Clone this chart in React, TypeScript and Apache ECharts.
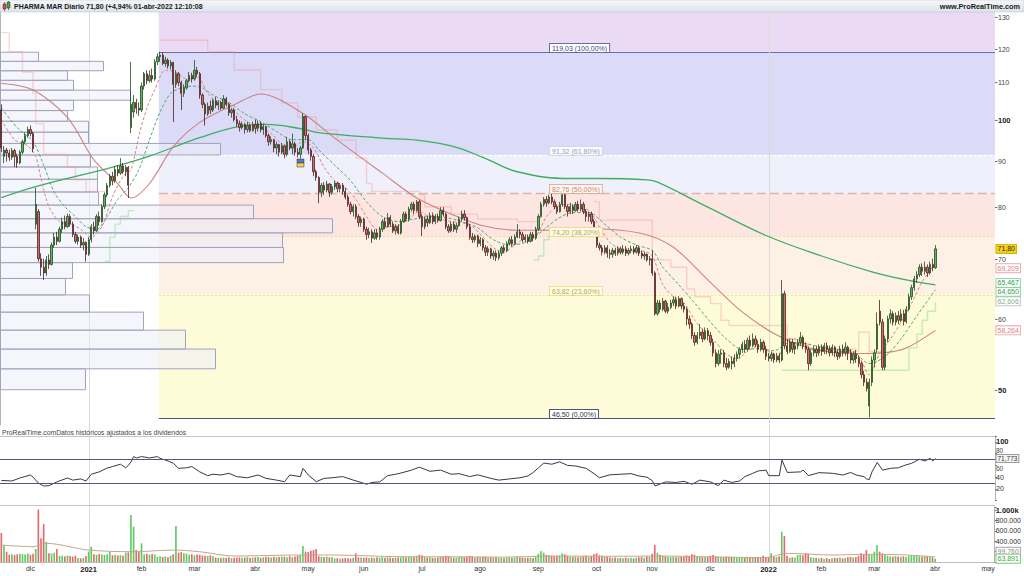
import React, { useEffect, useRef } from "react";
import * as echarts from "echarts";

// ---------- DATA ----------
const CATEGORY_COUNT = 376;
const monthTicks: [number, string][] = [
  [11, "dic"], [33, "2021"], [53, "feb"], [73, "mar"], [96, "abr"], [116, "may"], [137, "jun"],
  [159, "jul"], [181, "ago"], [203, "sep"], [225, "oct"], [246, "nov"], [268, "dic"], [290, "2022"],
  [310, "feb"], [330, "mar"], [353, "abr"], [373, "may"],
];
const yearTickIdx = [33, 290];
const priceTicks = [50, 60, 70, 80, 90, 100, 110, 120, 130];
const boldPriceTicks = [50, 100];
const priceAxisMin = 45.71;
const priceAxisMax = 131.79;
const fibLevels = [119.03, 91.32, 82.76, 74.2, 63.82, 46.5];
const fibPercents = ["100,00%", "61,80%", "50,00%", "38,20%", "23,60%", "0,00%"];
const fibStartIndex = 60;

// [open, close, low, high]
const candles: number[][] = [
  [102.5, 93.0, 92.0, 104.0], [91.0, 92.5, 89.5, 93.5], [92.5, 91.8, 89.8, 93.0], [91.8, 90.8, 90.0, 92.6],
  [90.8, 92.4, 90.2, 93.0], [92.4, 91.0, 88.6, 92.8], [91.0, 89.5, 88.4, 91.6], [89.5, 92.0, 89.2, 92.5],
  [92.0, 94.5, 91.5, 95.0], [94.5, 96.0, 94.0, 96.8], [96.0, 97.5, 95.5, 98.2], [97.5, 96.5, 95.8, 98.5],
  [96.5, 92.8, 92.0, 97.0], [76.5, 80.5, 75.5, 84.0], [79.0, 70.0, 69.5, 79.5], [70.0, 68.5, 67.0, 71.0],
  [68.5, 67.5, 66.3, 70.0], [67.5, 69.8, 67.0, 70.5], [69.8, 69.0, 68.2, 70.8], [69.0, 72.5, 68.8, 73.0],
  [72.5, 74.0, 72.0, 74.8], [74.0, 73.2, 72.5, 75.0], [73.2, 75.5, 73.0, 76.0], [75.5, 77.0, 74.8, 77.8],
  [77.0, 76.0, 75.5, 78.2], [76.0, 78.0, 75.8, 78.6], [78.0, 76.5, 76.0, 78.5], [76.5, 74.5, 74.0, 77.0],
  [74.5, 73.2, 72.8, 75.0], [73.2, 74.0, 72.6, 74.5], [74.0, 72.5, 72.0, 74.3], [72.5, 73.0, 71.5, 73.8],
  [73.0, 70.8, 69.5, 73.2], [70.8, 73.5, 70.5, 74.0], [73.5, 76.0, 73.0, 76.5], [76.0, 75.2, 74.5, 77.0],
  [75.2, 78.0, 75.0, 78.5], [78.0, 77.0, 76.2, 79.0], [77.0, 80.0, 76.8, 80.5], [80.0, 82.5, 79.5, 83.0],
  [82.5, 84.5, 82.0, 85.0], [84.5, 86.5, 84.0, 87.0], [86.5, 85.5, 84.5, 87.5], [85.5, 88.0, 85.0, 88.8],
  [88.0, 87.2, 86.5, 89.0], [87.2, 88.8, 86.8, 90.6], [88.8, 87.5, 87.0, 89.5], [87.5, 88.5, 86.5, 89.0],
  [88.5, 84.5, 81.8, 88.8], [98.0, 104.0, 96.6, 116.0], [102.0, 104.5, 100.5, 106.5], [104.5, 103.0, 101.5, 105.5],
  [103.0, 102.5, 101.0, 104.5], [102.5, 109.0, 102.0, 110.0], [109.0, 112.5, 108.0, 113.0], [112.5, 110.5, 109.5, 113.5],
  [110.5, 112.0, 110.0, 113.5], [112.0, 111.0, 110.0, 114.0], [111.0, 116.0, 110.5, 116.8], [116.0, 117.5, 115.0, 118.5],
  [117.5, 118.0, 116.0, 119.03], [118.0, 115.5, 115.0, 118.8], [115.5, 116.5, 114.5, 117.5], [116.5, 114.8, 114.0, 117.0],
  [114.8, 115.8, 113.8, 116.5], [115.8, 109.5, 99.4, 116.0], [109.5, 112.5, 108.5, 113.5], [112.5, 110.0, 109.0, 113.0],
  [110.0, 107.0, 102.5, 110.5], [107.0, 108.5, 106.0, 109.5], [108.5, 110.5, 108.0, 111.0], [110.5, 112.0, 110.0, 113.0],
  [112.0, 111.0, 110.0, 112.8], [111.0, 113.5, 110.5, 116.5], [113.5, 112.5, 111.5, 114.5], [112.5, 106.5, 105.5, 113.0],
  [106.5, 104.0, 103.0, 107.0], [104.0, 101.5, 98.5, 104.5], [101.5, 103.5, 101.0, 104.5], [103.5, 102.5, 101.5, 105.0],
  [102.5, 105.0, 102.0, 105.5], [105.0, 103.8, 103.0, 106.0], [103.8, 104.5, 102.5, 105.2], [104.5, 103.0, 102.5, 105.0],
  [103.0, 105.5, 102.8, 106.5], [105.5, 104.0, 103.5, 106.0], [104.0, 101.8, 101.0, 104.5], [101.8, 102.5, 100.5, 103.0],
  [102.5, 100.0, 99.5, 103.0], [100.0, 99.0, 98.2, 101.0], [99.0, 98.0, 97.0, 99.8], [98.0, 98.8, 97.5, 99.5],
  [98.8, 97.5, 96.5, 99.2], [97.5, 98.5, 96.8, 99.5], [98.5, 97.2, 96.8, 99.0], [97.2, 98.8, 97.0, 99.5],
  [98.8, 97.8, 96.5, 100.0], [97.8, 99.0, 97.0, 99.8], [99.0, 97.5, 96.8, 99.5], [97.5, 98.2, 96.2, 98.8],
  [98.2, 96.0, 95.5, 98.5], [96.0, 94.5, 93.5, 96.5], [94.5, 95.0, 93.8, 95.8], [95.0, 93.0, 92.0, 95.2],
  [93.0, 93.8, 91.5, 94.5], [93.8, 92.0, 91.0, 94.0], [92.0, 93.5, 91.5, 94.2], [93.5, 91.5, 90.6, 93.8],
  [91.5, 94.5, 91.0, 95.7], [94.5, 93.0, 92.5, 95.0], [93.0, 94.0, 91.5, 96.5], [94.0, 92.0, 91.2, 94.5],
  [92.0, 91.5, 90.8, 93.0], [91.5, 93.0, 90.5, 93.5], [93.0, 100.8, 92.8, 101.6], [100.8, 96.0, 95.0, 101.0],
  [96.0, 92.5, 91.5, 96.5], [92.5, 91.0, 90.0, 93.0], [91.0, 87.5, 86.5, 91.5], [87.5, 86.2, 85.5, 88.0],
  [86.2, 83.0, 80.7, 86.5], [83.0, 84.5, 82.0, 85.0], [84.5, 83.5, 82.5, 85.2], [83.5, 84.8, 83.0, 85.5],
  [84.8, 83.0, 82.0, 85.0], [83.0, 84.2, 82.5, 84.8], [84.2, 85.0, 83.5, 85.5], [85.0, 83.8, 83.0, 85.3],
  [83.8, 84.5, 83.0, 85.0], [84.5, 83.2, 82.5, 85.0], [83.2, 82.0, 81.5, 84.0], [82.0, 80.5, 80.0, 82.5],
  [80.5, 79.0, 78.5, 81.0], [79.0, 80.0, 78.0, 80.5], [80.0, 78.0, 77.5, 80.5], [78.0, 76.8, 76.0, 78.5],
  [76.8, 77.5, 76.0, 78.0], [77.5, 75.5, 75.0, 77.8], [75.5, 74.5, 73.5, 76.0], [74.5, 75.0, 73.8, 75.8],
  [75.0, 73.8, 72.9, 75.5], [73.8, 74.8, 73.5, 75.5], [74.8, 74.0, 73.5, 75.5], [74.0, 75.5, 73.5, 76.0],
  [75.5, 77.0, 75.0, 77.5], [77.0, 76.0, 75.5, 77.8], [76.0, 77.8, 75.8, 78.7], [77.8, 76.5, 76.0, 78.3],
  [76.5, 75.2, 74.8, 77.0], [75.2, 76.0, 74.5, 76.5], [76.0, 74.8, 74.5, 76.5], [74.8, 77.0, 74.5, 77.5],
  [77.0, 78.5, 76.8, 79.0], [78.5, 77.5, 77.0, 79.0], [77.5, 79.5, 77.0, 80.0], [79.5, 80.5, 79.0, 81.0],
  [80.5, 79.2, 78.5, 81.0], [79.2, 81.0, 79.0, 81.4], [81.0, 78.0, 77.5, 81.4], [78.0, 76.0, 74.2, 78.5],
  [76.0, 77.5, 75.5, 78.0], [77.5, 76.8, 76.0, 78.2], [76.8, 78.2, 76.5, 78.8], [78.2, 77.0, 76.5, 78.8],
  [77.0, 78.0, 76.5, 78.5], [78.0, 77.2, 76.8, 78.6], [77.2, 79.2, 77.0, 79.9], [79.2, 78.5, 78.0, 79.9],
  [78.5, 76.0, 75.5, 78.8], [76.0, 75.2, 74.8, 76.5], [75.2, 76.5, 74.9, 77.0], [76.5, 75.5, 75.0, 77.0],
  [75.5, 76.2, 74.8, 76.8], [76.2, 77.5, 76.0, 78.0], [77.5, 78.5, 77.0, 79.2], [78.5, 77.8, 77.2, 79.3],
  [77.8, 76.0, 75.5, 78.0], [76.0, 74.0, 73.5, 76.5], [74.0, 73.5, 72.9, 74.8], [73.5, 74.2, 73.0, 74.5],
  [74.2, 72.8, 72.1, 74.5], [72.8, 73.5, 72.3, 74.0], [73.5, 72.0, 71.5, 73.8], [72.0, 71.2, 70.5, 72.5],
  [71.2, 71.8, 70.5, 72.3], [71.8, 70.5, 70.0, 72.0], [70.5, 71.0, 69.8, 71.5], [71.0, 70.2, 69.6, 71.5],
  [70.2, 71.0, 69.8, 71.5], [71.0, 72.0, 70.5, 72.3], [72.0, 71.5, 71.0, 72.5], [71.5, 72.8, 71.2, 73.2],
  [72.8, 73.5, 72.5, 74.0], [73.5, 72.8, 72.2, 74.2], [72.8, 74.0, 72.5, 74.5], [74.0, 75.0, 73.8, 76.5],
  [75.0, 74.5, 73.8, 75.5], [74.5, 73.5, 73.0, 75.0], [73.5, 74.0, 73.0, 74.5], [74.0, 73.2, 72.8, 74.5],
  [73.2, 74.5, 73.0, 75.0], [74.5, 73.8, 73.2, 75.0], [73.8, 75.5, 73.5, 76.0], [75.5, 78.0, 75.2, 78.5],
  [78.0, 80.5, 77.8, 81.0], [80.5, 81.5, 80.0, 82.0], [81.5, 80.8, 80.0, 82.2], [80.8, 82.0, 80.5, 82.5],
  [82.0, 81.0, 80.5, 82.8], [81.0, 80.0, 79.5, 81.5], [80.0, 79.0, 78.5, 80.5], [79.0, 80.5, 78.8, 81.0],
  [80.5, 82.5, 80.0, 83.0], [82.5, 80.0, 79.5, 82.8], [80.0, 79.0, 78.0, 80.5], [79.0, 80.0, 78.5, 80.8],
  [80.0, 79.2, 78.5, 80.5], [79.2, 80.5, 79.0, 81.0], [80.5, 79.5, 79.0, 81.2], [79.5, 80.5, 79.0, 81.5],
  [80.5, 79.0, 78.5, 81.0], [79.0, 78.0, 77.0, 79.5], [78.0, 78.5, 77.0, 79.0], [78.5, 77.0, 76.5, 79.0],
  [77.0, 74.5, 74.0, 77.5], [74.5, 72.5, 72.0, 75.0], [72.5, 72.0, 71.5, 73.0], [72.0, 71.2, 70.6, 72.5],
  [71.2, 72.0, 70.8, 72.5], [72.0, 71.0, 70.2, 72.5], [71.0, 70.8, 70.0, 71.8], [70.8, 71.5, 70.2, 72.0],
  [71.5, 71.0, 70.5, 72.0], [71.0, 71.8, 70.6, 72.3], [71.8, 71.2, 70.8, 72.2], [71.2, 71.8, 70.8, 72.5],
  [71.8, 71.0, 70.5, 72.3], [71.0, 71.5, 70.6, 72.0], [71.5, 71.8, 71.0, 72.4], [71.8, 71.2, 70.8, 72.3],
  [71.2, 72.0, 70.9, 72.5], [72.0, 71.0, 70.5, 72.3], [71.0, 70.5, 70.0, 71.5], [70.5, 70.8, 69.8, 71.3],
  [70.8, 69.8, 69.5, 71.0], [69.8, 70.0, 68.8, 70.5], [70.0, 67.5, 67.0, 71.5], [67.5, 60.8, 60.5, 67.8],
  [60.8, 62.5, 60.5, 63.0], [62.5, 61.5, 61.0, 63.0], [61.5, 62.8, 61.2, 63.3], [62.8, 61.2, 60.9, 63.0],
  [61.2, 61.8, 60.8, 62.5], [61.8, 62.5, 61.5, 63.0], [62.5, 63.0, 62.0, 63.6], [63.0, 62.0, 61.5, 63.5],
  [62.0, 63.2, 61.8, 63.6], [63.2, 62.0, 61.5, 63.4], [62.0, 61.5, 61.0, 62.5], [61.5, 60.0, 59.0, 61.8],
  [60.0, 59.2, 58.5, 60.5], [59.2, 57.5, 57.0, 59.5], [57.5, 56.5, 56.0, 58.0], [56.5, 57.5, 56.2, 58.0],
  [57.5, 58.0, 57.0, 59.2], [58.0, 57.0, 56.5, 58.5], [57.0, 58.2, 56.8, 58.7], [58.2, 57.5, 56.8, 58.6],
  [57.5, 56.5, 56.0, 58.0], [56.5, 55.0, 54.5, 57.0], [55.0, 53.5, 53.0, 55.5], [53.5, 54.8, 53.2, 55.4],
  [54.8, 55.0, 53.5, 55.5], [55.0, 53.5, 53.0, 55.4], [53.5, 53.0, 52.6, 54.3], [53.0, 53.8, 52.8, 54.2],
  [53.8, 53.5, 52.7, 54.5], [53.5, 54.2, 53.0, 54.8], [54.2, 54.8, 53.8, 55.2], [54.8, 55.5, 54.2, 55.8],
  [55.5, 56.2, 55.0, 56.6], [56.2, 55.5, 55.0, 56.8], [55.5, 56.8, 55.2, 57.2], [56.8, 56.0, 55.5, 57.5],
  [56.0, 57.0, 55.8, 57.8], [57.0, 56.2, 55.8, 57.5], [56.2, 55.5, 55.0, 56.8], [55.5, 56.5, 55.2, 57.0],
  [56.5, 55.5, 55.0, 56.8], [55.5, 54.5, 54.0, 56.0], [54.5, 54.2, 53.8, 55.0], [54.2, 54.8, 53.8, 55.2],
  [54.8, 54.0, 53.6, 55.0], [54.0, 54.5, 53.7, 55.0], [54.5, 54.0, 53.6, 55.0], [54.0, 64.0, 53.8, 66.3],
  [64.0, 56.0, 55.5, 64.5], [56.0, 55.2, 54.8, 57.0], [55.2, 56.5, 55.0, 57.0], [56.5, 55.5, 55.0, 57.0],
  [55.5, 56.0, 54.8, 56.5], [56.0, 56.5, 55.5, 57.0], [56.5, 57.2, 56.0, 58.0], [57.2, 56.0, 55.5, 57.5],
  [56.0, 55.5, 55.0, 56.5], [55.5, 53.5, 52.6, 55.8], [53.5, 55.0, 53.2, 55.5], [55.0, 55.5, 54.5, 56.0],
  [55.5, 55.0, 54.4, 56.0], [55.0, 55.8, 54.6, 56.2], [55.8, 55.2, 54.6, 56.2], [55.2, 56.0, 54.8, 56.4],
  [56.0, 55.5, 54.8, 56.5], [55.5, 55.0, 54.5, 56.0], [55.0, 55.8, 54.6, 56.2], [55.8, 55.0, 54.4, 56.0],
  [55.0, 54.5, 54.0, 55.5], [54.5, 55.5, 54.2, 56.0], [55.5, 55.0, 54.5, 56.2], [55.0, 55.8, 54.6, 56.5],
  [55.8, 55.0, 54.0, 56.0], [55.0, 54.0, 53.5, 55.5], [54.0, 54.8, 53.5, 55.2], [54.8, 54.2, 53.6, 55.4],
  [54.2, 53.5, 53.0, 54.6], [53.5, 52.0, 51.5, 53.8], [52.0, 51.0, 50.5, 52.5], [51.0, 50.2, 49.8, 51.5],
  [48.0, 51.0, 46.6, 51.5], [51.0, 54.0, 50.5, 54.5], [54.0, 55.0, 53.0, 55.5], [55.5, 59.2, 55.0, 61.0],
  [61.2, 59.5, 59.0, 63.0], [59.5, 53.0, 52.6, 60.0], [53.0, 57.0, 52.6, 57.5], [57.0, 60.0, 56.5, 60.5],
  [60.0, 60.8, 59.3, 61.5], [60.8, 59.5, 59.0, 61.2], [59.5, 60.5, 59.0, 61.0], [60.5, 59.8, 59.2, 61.2],
  [59.8, 60.8, 59.5, 61.5], [60.8, 59.6, 59.0, 61.4], [59.6, 61.5, 59.3, 62.0], [61.5, 63.5, 61.2, 64.0],
  [63.5, 65.0, 63.0, 65.5], [65.0, 66.5, 64.5, 67.0], [66.5, 67.2, 65.8, 67.8], [67.2, 68.5, 66.8, 69.0],
  [68.5, 67.8, 67.0, 69.2], [67.8, 68.5, 67.2, 69.5], [68.5, 67.5, 66.8, 69.0], [67.5, 69.0, 67.2, 69.5],
  [69.0, 68.4, 67.8, 70.0], [68.4, 71.8, 68.2, 72.5],
];

// daily volume, thousands of shares
const volumesK: number[] = [
  558, 327, 198, 140, 150, 135, 150, 160, 150, 145, 165, 140, 160, 250, 1013, 460, 730, 390, 170, 160,
  180, 250, 115, 120, 110, 125, 115, 100, 120, 75, 70, 80, 115, 200, 295, 150, 140, 155, 145, 135,
  150, 200, 130, 140, 125, 135, 120, 180, 185, 904, 680, 230, 200, 360, 150, 160, 140, 155, 145, 100,
  110, 95, 105, 90, 120, 150, 692, 180, 190, 170, 160, 140, 150, 130, 145, 140, 125, 120, 115, 130,
  110, 85, 80, 75, 85, 80, 90, 75, 80, 85, 90, 80, 85, 95, 75, 85, 90, 95, 80, 90,
  100, 95, 85, 100, 90, 95, 105, 100, 90, 110, 95, 105, 120, 135, 307, 200, 190, 215, 230, 250,
  110, 100, 95, 105, 90, 95, 70, 75, 65, 70, 75, 70, 65, 80, 167, 90, 85, 80, 90, 75,
  85, 80, 90, 85, 95, 80, 90, 85, 75, 80, 85, 90, 100, 85, 95, 110, 90, 120, 140, 130,
  95, 85, 90, 80, 75, 85, 100, 95, 120, 110, 90, 80, 85, 95, 100, 90, 105, 120, 110, 85,
  100, 90, 95, 105, 80, 95, 85, 90, 75, 80, 70, 85, 90, 75, 85, 110, 90, 85, 75, 80,
  85, 75, 100, 160, 210, 180, 140, 130, 120, 110, 115, 125, 170, 150, 120, 100, 95, 105, 90, 100,
  110, 120, 95, 115, 150, 170, 130, 120, 95, 100, 90, 80, 85, 75, 80, 70, 85, 75, 80, 70,
  85, 90, 95, 80, 110, 100, 160, 330, 180, 140, 120, 110, 100, 95, 105, 90, 95, 100, 110, 130,
  120, 150, 140, 110, 100, 95, 90, 100, 120, 135, 110, 100, 95, 90, 105, 100, 95, 90, 85, 80,
  90, 85, 100, 90, 85, 80, 95, 90, 120, 85, 90, 167, 100, 95, 110, 583, 500, 120, 80, 90,
  85, 135, 140, 130, 170, 160, 90, 80, 75, 70, 80, 65, 75, 60, 70, 80, 75, 85, 70, 80,
  90, 100, 85, 95, 120, 167, 150, 230, 140, 135, 200, 327, 200, 167, 150, 120, 110, 100, 115, 105,
  100, 110, 95, 120, 135, 115, 125, 110, 100, 115, 105, 95, 90, 64,
];
const volumeMaK: [number, number][] = [
  [0, 327], [12, 295], [17, 360], [33, 230], [50, 198], [65, 230], [75, 198], [88, 115], [113, 135], [125, 135],
  [151, 102], [170, 100], [190, 95], [210, 115], [230, 110], [250, 115], [264, 102], [289, 85], [297, 167],
  [314, 135], [327, 148], [340, 140], [353, 100],
];
const lastVolumeText = "63.891";
const volumeMaText = "99.760";

// moving averages & indicator lines [dayIndex, price]
const ma200: [number, number][] = [
  [0, 81.9], [14, 84.4], [41, 88.4], [56, 91.1], [75, 95.5], [90, 98.3], [100, 98.8], [114, 97.6], [119, 96.8],
  [144, 95.4], [157, 94.9], [170, 93.5], [182, 90.8], [195, 87.5], [215, 86.0], [226, 86.0], [244, 85.7],
  [248, 85.2], [267, 79.9], [289, 74.3], [310, 70.5], [329, 67.7], [342, 66.3], [353, 65.467],
];
const ma50: [number, number][] = [
  [0, 109.8], [12, 107.9], [25, 100.6], [35, 90.2], [44, 84.9], [49, 81.8], [56, 84.9], [65, 93.3], [75, 99.3],
  [88, 103.9], [98, 106.8], [114, 101.6], [127, 94.9], [144, 87.2], [157, 81.8], [170, 78.5], [182, 76.2],
  [195, 75.3], [211, 75.3], [222, 75.6], [242, 74.7], [254, 72.1], [267, 66.3], [279, 61.4], [292, 57.8],
  [305, 55.7], [323, 54.9], [333, 55.0], [342, 55.7], [353, 58.264],
];
const fastDashed: [number, number][] = [
  [0, 100], [5, 95], [10, 93.5], [13, 91], [15, 86], [18, 80], [22, 77], [26, 76.5], [30, 75.5], [34, 74],
  [38, 76], [42, 82], [46, 86.5], [49, 88], [52, 96], [55, 103], [58, 108], [62, 113.5], [66, 113], [70, 111],
  [74, 111.5], [78, 107], [82, 104.5], [86, 104], [90, 101], [94, 99], [98, 98], [102, 96.5], [106, 94], [110, 93],
  [114, 94.5], [118, 93], [122, 88.5], [126, 85.5], [130, 84], [134, 81.5], [138, 78], [142, 75.5], [146, 76],
  [150, 76.2], [154, 77.5], [158, 79], [162, 77.8], [166, 77.5], [170, 77], [174, 76.8], [178, 76], [182, 74],
  [186, 72], [190, 71.2], [194, 72.5], [198, 73.8], [202, 74.2], [206, 78], [210, 80], [214, 80.5], [218, 79.8],
  [222, 79.2], [226, 76], [230, 73], [234, 71.8], [238, 71.4], [242, 71.4], [246, 70.5], [250, 65.5], [254, 63.5],
  [258, 62.5], [262, 59.8], [266, 58], [270, 56.5], [274, 54.8], [278, 54.2], [282, 55.2], [286, 56], [290, 55.2],
  [294, 54.6], [296, 57], [300, 57], [304, 56.2], [308, 55.2], [312, 55.4], [316, 55.2], [320, 55.2], [324, 54.5],
  [328, 52], [332, 55], [336, 57], [340, 59.5], [344, 62.5], [348, 66], [353, 69.209],
];
const slowDashed: [number, number][] = [
  [0, 103], [6, 98], [12, 94.5], [16, 89], [20, 83], [24, 80], [28, 78], [32, 76], [36, 75.5], [40, 78], [44, 81.5],
  [48, 84], [52, 88], [56, 95], [60, 102], [64, 107], [68, 108.5], [72, 109], [76, 108.5], [80, 106.5], [86, 104.5],
  [92, 101.5], [98, 99.5], [104, 97], [110, 95], [116, 95], [120, 92.5], [126, 89], [132, 85.5], [138, 81], [144, 78],
  [150, 77], [156, 77.5], [162, 78], [168, 77.8], [174, 77], [180, 75.8], [186, 73.5], [192, 72.5], [198, 73],
  [204, 75], [210, 77.5], [216, 78.8], [222, 78.8], [228, 76.5], [234, 74], [240, 72.5], [246, 71.5], [250, 68.5],
  [256, 65.5], [262, 62.5], [268, 59.5], [274, 57], [280, 55.5], [286, 55.6], [292, 55.3], [298, 56.5], [304, 56.3],
  [310, 55.8], [316, 55.5], [322, 55.2], [328, 53.5], [334, 54.5], [340, 57], [346, 60.5], [353, 64.65],
];
const resistanceSteps: [number, number][][] = [
  [[0, 125], [3, 119], [8, 113], [12, 107], [13, 99], [16, 91.5], [25, 88.5], [28, 85.7], [32, 83.2], [40, 83.2]],
  [[60, 122.6], [63, 122.6], [78, 119], [88, 113.6], [98, 108], [106, 104.4], [112, 100.7], [119, 97.4], [127, 94.9],
   [134, 90.6], [138, 84.9], [140, 83.2], [158, 82.5], [160, 80], [170, 78.5], [180, 77.5], [195, 77], [203, 77]],
  [[224, 81], [226, 77.3], [245, 77.3], [246, 69.8], [253, 68.5], [259, 64.8], [262, 63.5], [268, 62.4], [272, 59.8],
   [275, 59], [294, 59], [297, 57], [300, 56.3], [305, 55.5], [323, 55.2], [324, 58], [327, 58], [328, 55.2], [333, 55.2]],
];
const supportSteps: [number, number][][] = [
  [[39, 69.5], [41, 74], [43, 76.5], [45, 78], [48, 79.2], [50, 79.2]],
  [[201, 69.8], [203, 70.5], [205, 73.5], [207, 74.2], [213, 74.2]],
  [[295, 52.6], [342, 52.6], [343, 55.7], [346, 57.7], [348, 59.8], [350, 61.2], [353, 62.606]],
];

// RSI [dayIndex, value]
const rsi: [number, number][] = [
  [0, 34.5], [4, 33.5], [7, 38.6], [11, 43.7], [12, 40], [14, 30], [16, 25], [18, 25.5], [21, 32], [25, 38.6],
  [27, 35], [30, 37], [32, 33.5], [34, 45], [37, 49], [40, 55.6], [42, 58], [45, 62], [47, 56], [48, 60], [49, 66],
  [50, 75], [51, 72.7], [53, 75], [56, 72.7], [59, 75], [60, 72], [63, 67.5], [65, 63.6], [67, 55], [70, 56],
  [72, 58], [75, 49], [78, 42.6], [80, 45], [83, 43.7], [86, 46.6], [89, 40.9], [93, 39], [97, 43.7], [100, 38],
  [104, 35], [107, 32.3], [109, 43.7], [113, 40.9], [114, 55], [116, 43.7], [119, 32.3], [122, 38], [125, 39],
  [129, 41], [133, 35], [136, 31], [138, 28], [140, 31], [143, 32], [146, 42.6], [149, 45], [151, 47], [155, 52],
  [158, 57], [162, 50], [166, 52], [170, 45], [173, 46], [177, 41], [180, 44], [185, 38], [188, 35], [192, 37],
  [196, 39], [199, 42], [201, 48], [203, 56], [205, 64], [208, 62], [211, 66], [214, 60], [217, 59], [221, 55],
  [224, 46], [226, 39], [230, 44], [234, 45], [238, 46], [241, 42], [244, 40], [246, 34], [247, 25], [251, 32],
  [255, 31], [258, 33], [261, 28], [264, 35], [268, 32], [271, 25.5], [273, 35], [276, 31], [279, 33.5], [281, 41],
  [284, 46.6], [286, 50.6], [289, 52], [290, 42.6], [294, 42.6], [295, 69], [297, 48], [302, 49], [303, 52],
  [305, 42.6], [309, 47.7], [314, 46.6], [318, 43.7], [321, 48], [323, 43.7], [326, 40.9], [327, 37], [328, 36],
  [329, 49], [331, 65], [333, 52], [336, 55], [339, 56], [341, 59.6], [344, 63.6], [347, 70.5], [349, 67.5],
  [351, 72], [352, 67.5], [353, 71.773],
];
const rsiLevels = [70, 30];

// volume-at-price profile (price bin edges, relative volume)
const profileEdges = [
  50.1, 52.86, 55.61, 58.37, 61.13, 63.89, 66.64, 69.4, 72.16, 74.91, 77.67, 80.43, 83.19, 85.94, 88.7,
  91.46, 94.21, 96.97, 99.73, 102.49, 105.24, 108.0, 110.76, 113.51, 116.27, 119.03,
];
const profileVolumes = [85, 215, 185, 143, 89, 65, 72, 283, 282, 332, 253, 98, 97, 97, 90, 220, 88, 88, 67, 73, 130, 73, 67, 103, 38];

// ---------- STYLE ----------
const FONT = "Liberation Sans, Arial, sans-serif";
const UP = "#5cb55c";
const DOWN = "#d66e6a";
const VOL_UP = "#62c862";
const VOL_DOWN = "#e26a6a";

const fmtEs = (v: number, d: number) => v.toFixed(d).replace(".", ",");

function buildOption(): any {
  const cats = Array.from({ length: CATEGORY_COUNT }, (_, i) => String(i));
  const labelMap = new Map(monthTicks);
  const lineBase = (data: any, color: string, extra: any = {}) => {
    const { lineStyle: ls, ...rest } = extra;
    return {
      type: "line",
      xAxisIndex: 0,
      yAxisIndex: 0,
      data,
      showSymbol: false,
      symbol: "none",
      silent: true,
      z: 4,
      ...rest,
      lineStyle: { color, width: 1, ...(ls || {}) },
    };
  };
  const series: any[] = [];
  // volume profile
  series.push({
    type: "custom",
    xAxisIndex: 1,
    yAxisIndex: 0,
    silent: true,
    z: 2,
    encode: { x: 2, y: [0, 1] },
    data: profileVolumes.map((w, i) => [profileEdges[i], profileEdges[i + 1], w]),
    renderItem: (_p: any, api: any) => {
      const lo = api.value(0);
      const hi = api.value(1);
      const w = api.value(2);
      const a = api.coord([0, hi]);
      const b = api.coord([w, lo]);
      return {
        type: "rect",
        shape: { x: a[0] + 0.5, y: a[1] + 0.5, width: b[0] - a[0], height: b[1] - a[1] },
        style: { fill: "rgba(236,236,250,0.55)", stroke: "#a2a2bc", lineWidth: 1 },
      };
    },
  });
  resistanceSteps.forEach((seg) =>
    series.push(lineBase(seg, "rgba(240,150,150,0.38)", { step: "end", lineStyle: { width: 1.4 } }))
  );
  supportSteps.forEach((seg) =>
    series.push(lineBase(seg, "rgba(120,215,120,0.42)", { step: "end", lineStyle: { width: 1.4 } }))
  );
  series.push(lineBase(ma200, "#3cae62", { smooth: 0.4, lineStyle: { width: 1.3 } }));
  series.push(lineBase(ma50, "rgba(200,112,112,0.85)", { smooth: 0.3, lineStyle: { width: 1.1 } }));
  series.push(lineBase(slowDashed, "#4fa874", { smooth: 0.3, lineStyle: { type: [3, 2], width: 1 } }));
  series.push(lineBase(fastDashed, "#d88484", { smooth: 0.3, lineStyle: { type: [3, 2], width: 1 } }));
  series.push({
    type: "candlestick",
    xAxisIndex: 0,
    yAxisIndex: 0,
    data: candles,
    barWidth: 1.8,
    silent: true,
    z: 5,
    itemStyle: { color: UP, color0: DOWN, borderColor: "#234a22", borderColor0: "#4c2020", borderWidth: 0.8 },
  });
  // RSI
  series.push({
    type: "line",
    xAxisIndex: 2,
    yAxisIndex: 1,
    data: rsi,
    showSymbol: false,
    symbol: "none",
    silent: true,
    lineStyle: { color: "#3a3a3a", width: 1 },
    markLine: {
      silent: true,
      symbol: "none",
      label: { show: false },
      lineStyle: { color: "#56567c", width: 1, type: "solid" },
      data: rsiLevels.map((v) => ({ yAxis: v })),
    },
  });
  // Volume
  series.push({
    type: "bar",
    xAxisIndex: 3,
    yAxisIndex: 2,
    barWidth: "62%",
    silent: true,
    data: volumesK.map((v, i) => ({
      value: v * 1000,
      itemStyle: { color: candles[i][1] >= candles[i][0] ? VOL_UP : VOL_DOWN },
    })),
  });
  series.push({
    type: "line",
    xAxisIndex: 3,
    yAxisIndex: 2,
    data: volumeMaK.map(([i, v]) => [i, v * 1000]),
    showSymbol: false,
    symbol: "none",
    silent: true,
    smooth: 0.3,
    z: 4,
    lineStyle: { color: "#c8a48c", width: 1 },
  });

  const rightLabel = { fontSize: 7, fontFamily: FONT, color: "#333", margin: 1 };
  return {
    animation: false,
    backgroundColor: "#ffffff",
    grid: [
      { left: 0, top: 12, width: 995, height: 413 },
      { left: 0, top: 436, width: 995, height: 64.7 },
      { left: 0, top: 507, width: 995, height: 55 },
    ],
    xAxis: [
      { type: "category", gridIndex: 0, data: cats, show: false },
      { type: "value", gridIndex: 0, min: 0, max: 995, show: false },
      { type: "category", gridIndex: 1, data: cats, show: false },
      {
        type: "category",
        gridIndex: 2,
        data: cats,
        axisLine: { show: true, lineStyle: { color: "#bdbdbd" } },
        axisTick: { show: false },
        splitLine: { show: false },
        axisLabel: {
          interval: (i: number) => labelMap.has(i),
          formatter: (_v: string, i: number) => {
            const t = labelMap.get(i) || "";
            return /^\d+$/.test(t) ? `{b|${t}}` : t;
          },
          fontSize: 7,
          fontFamily: FONT,
          color: "#333",
          margin: 3,
          rich: { b: { fontWeight: "bold", fontSize: 7.5, fontFamily: FONT, color: "#222" } },
        },
      },
    ],
    yAxis: [
      {
        type: "log",
        logBase: 10,
        gridIndex: 0,
        min: priceAxisMin,
        max: priceAxisMax,
        position: "right",
        axisLine: { show: true, lineStyle: { color: "#b4b4b4" } },
        axisTick: { show: false },
        axisLabel: { show: false },
        splitLine: { show: false },
      },
      {
        type: "value",
        gridIndex: 1,
        min: 0,
        max: 110,
        interval: 20,
        position: "right",
        axisLine: { show: true, lineStyle: { color: "#b4b4b4" } },
        axisTick: { show: true, length: 2, lineStyle: { color: "#777" } },
        splitLine: { show: false },
        axisLabel: {
          ...rightLabel,
          formatter: (v: number) =>
            v === 100 ? "{b|100}" : v === 80 ? "{u|80}" : v === 60 ? "{d|60}" : [20, 40].includes(v) ? String(v) : "",
          rich: {
            b: { fontWeight: "bold", fontSize: 7.5, fontFamily: FONT, color: "#222" },
            u: { fontSize: 6.5, fontFamily: FONT, color: "#444", padding: [0, 0, 7, 0] },
            d: { fontSize: 6.5, fontFamily: FONT, color: "#444", padding: [7, 0, 0, 0] },
          },
        },
      },
      {
        type: "value",
        gridIndex: 2,
        min: 0,
        max: 1060000,
        interval: 200000,
        position: "right",
        axisLine: { show: true, lineStyle: { color: "#b4b4b4" } },
        axisTick: { show: true, length: 2, lineStyle: { color: "#777" } },
        splitLine: { show: false },
        axisLabel: {
          ...rightLabel,
          formatter: (v: number) =>
            v === 1000000 ? "{b|1.000k}" : v >= 400000 && v < 1000000 ? `${v / 1000}.000` : "",
          rich: { b: { fontWeight: "bold", fontSize: 7.5, fontFamily: FONT, color: "#222" } },
        },
      },
    ],
    series,
  };
}

function buildGraphics(chart: any): any[] {
  const px = (i: number) => chart.convertToPixel({ xAxisIndex: 0 }, i) as number;
  const py = (v: number) => chart.convertToPixel({ yAxisIndex: 0 }, v) as number;
  const pyR = (v: number) => chart.convertToPixel({ yAxisIndex: 1 }, v) as number;
  const pyV = (v: number) => chart.convertToPixel({ yAxisIndex: 2 }, v) as number;
  const els: any[] = [];
  const slot = 995 / CATEGORY_COUNT;
  const xStart = px(fibStartIndex) - slot / 2;
  const xRight = 995;

  // fibonacci bands
  const bandEdges = [priceAxisMax, ...fibLevels];
  const bandColors = ["#eadaf3", "#dcdbf7", "#eff0fb", "#fde6e1", "#fdf0e5", "#fefcd8"];
  for (let i = 0; i < bandColors.length; i++) {
    const y1 = py(bandEdges[i]);
    const y2 = py(bandEdges[i + 1]);
    els.push({ type: "rect", z: 0, silent: true, shape: { x: xStart, y: y1, width: xRight - xStart, height: y2 - y1 }, style: { fill: bandColors[i] } });
  }
  const fibLineStyles = [
    { stroke: "#6c6ca4", lineWidth: 1 },
    { stroke: "#ffffff", lineWidth: 1.5, lineDash: [3, 2] },
    { stroke: "#d6b6b0", lineWidth: 1.5, lineDash: [9, 4] },
    { stroke: "#efd99a", lineWidth: 1, lineDash: [2, 2] },
    { stroke: "#efe19a", lineWidth: 1, lineDash: [2, 2] },
    { stroke: "#55556a", lineWidth: 1 },
  ];
  const fibBoxStyles = [
    { fill: "#45458a", bg: "#ffffff", border: "#6c6ca4" },
    { fill: "#9a9ab8", bg: "#fbfbff", border: "#d6d6e8" },
    { fill: "#c48878", bg: "#fff6f3", border: "#e4b0a2" },
    { fill: "#b8a454", bg: "#fffbe8", border: "#ecdc8a" },
    { fill: "#b8aa54", bg: "#fffde6", border: "#ece08a" },
    { fill: "#333344", bg: "#ffffff", border: "#55556a" },
  ];
  fibLevels.forEach((lv, i) => {
    const y = Math.round(py(lv)) + 0.5;
    els.push({ type: "line", z: 1, silent: true, shape: { x1: xStart, y1: y, x2: xRight, y2: y }, style: fibLineStyles[i] });
    const b = fibBoxStyles[i];
    els.push({
      type: "text", z: 30, silent: true, x: 550, y: y - 0.5,
      style: {
        text: `${fmtEs(lv, 2)} (${fibPercents[i]})`, fontSize: 7, fontFamily: FONT, fill: b.fill,
        backgroundColor: b.bg, borderColor: b.border, borderWidth: 1, padding: [1, 2, 0, 2],
        align: "left", verticalAlign: "bottom",
      },
    });
  });

  // year grid lines
  yearTickIdx.forEach((i) => {
    const x = Math.round(px(i)) + 0.5;
    els.push({ type: "line", z: 1, silent: true, shape: { x1: x, y1: 12, x2: x, y2: 562 }, style: { stroke: "#dadada", lineWidth: 1 } });
  });

  // panel separators
  [[436.5], [505.5]].forEach(([y]) =>
    els.push({ type: "line", z: 1, silent: true, shape: { x1: 0, y1: y, x2: 995, y2: y }, style: { stroke: "#c4c4c4", lineWidth: 1 } })
  );

  // header
  els.push({
    type: "rect", z: 20, silent: true, shape: { x: 0, y: 0, width: 1024, height: 12 },
    style: { fill: new echarts.graphic.LinearGradient(0, 0, 0, 1, [{ offset: 0, color: "#f6f8fa" }, { offset: 1, color: "#dce3ea" }]), stroke: "#b9c2cb", lineWidth: 0.5 },
  });
  els.push({ type: "line", z: 21, silent: true, shape: { x1: 4.5, y1: 2, x2: 4.5, y2: 11 }, style: { stroke: "#333", lineWidth: 0.6 } });
  els.push({ type: "rect", z: 22, silent: true, shape: { x: 3, y: 4, width: 3, height: 5 }, style: { fill: "#d84848", stroke: "#333", lineWidth: 0.5 } });
  els.push({ type: "line", z: 21, silent: true, shape: { x1: 8.5, y1: 1, x2: 8.5, y2: 10 }, style: { stroke: "#333", lineWidth: 0.6 } });
  els.push({ type: "rect", z: 22, silent: true, shape: { x: 7, y: 2, width: 3, height: 6 }, style: { fill: "#3aa83a", stroke: "#333", lineWidth: 0.5 } });
  els.push({
    type: "text", z: 22, silent: true, x: 14, y: 6.5,
    style: { text: "PHARMA MAR Diario 71,80 (+4,94% 01-abr-2022 12:10:08", fontSize: 7, fontWeight: "bold", fontFamily: FONT, fill: "#1a1a1a", verticalAlign: "middle" },
  });
  els.push({
    type: "text", z: 22, silent: true, x: 1020, y: 6.5,
    style: { text: "www.ProRealTime.com", fontSize: 7.3, fontWeight: "bold", fontFamily: FONT, fill: "#1a1a1a", align: "right", verticalAlign: "middle" },
  });

  // caption under price panel
  els.push({
    type: "text", z: 22, silent: true, x: 2, y: 432,
    style: { text: "ProRealTime.comDatos históricos ajustados a los dividendos", fontSize: 6.8, fontFamily: FONT, fill: "#444", verticalAlign: "middle" },
  });

  // dividend marker
  els.push({ type: "rect", z: 22, silent: true, shape: { x: 297, y: 159, width: 7, height: 4 }, style: { fill: "#5a78c4", stroke: "#334", lineWidth: 0.5 } });
  els.push({ type: "rect", z: 22, silent: true, shape: { x: 297, y: 163, width: 7, height: 4 }, style: { fill: "#f0d448", stroke: "#334", lineWidth: 0.5 } });

  // price axis ticks & labels
  priceTicks.forEach((v) => {
    const y = Math.round(py(v)) + 0.5;
    els.push({ type: "line", z: 22, silent: true, shape: { x1: 995, y1: y, x2: 997.5, y2: y }, style: { stroke: "#777", lineWidth: 1 } });
    const bold = boldPriceTicks.includes(v);
    els.push({
      type: "text", z: 22, silent: true, x: 998, y,
      style: { text: String(v), fontSize: bold ? 7.5 : 7, fontWeight: bold ? "bold" : "normal", fontFamily: FONT, fill: bold ? "#222" : "#444", verticalAlign: "middle" },
    });
  });

  // right side value tags
  const last = (a: [number, number][]) => a[a.length - 1][1];
  const lastClose = candles[candles.length - 1][1];
  const tags = [
    { v: last(ma50), text: fmtEs(last(ma50), 3), fill: "#e07c80", bg: "#ffffff", border: "#eaa8aa", dy: 0 },
    { v: last(supportSteps[2]), text: fmtEs(last(supportSteps[2]), 3), fill: "#8ea88e", bg: "#ffffff", border: "#b8ccb8", dy: -1 },
    { v: last(slowDashed), text: fmtEs(last(slowDashed), 3), fill: "#2fa04c", bg: "#ffffff", border: "#8fd49e", dy: 2 },
    { v: last(ma200), text: fmtEs(last(ma200), 3), fill: "#2a9a48", bg: "#ffffff", border: "#8fd49e", dy: -2 },
    { v: last(fastDashed), text: fmtEs(last(fastDashed), 3), fill: "#e07c80", bg: "#ffffff", border: "#eaa8aa", dy: 5 },
    { v: lastClose, text: fmtEs(lastClose, 2), fill: "#2a2a2a", bg: "#f2d21c", border: "#d8b400", dy: 0 },
  ];
  tags.forEach((t) => {
    const y = py(t.v) + t.dy;
    els.push({
      type: "text", z: 40, silent: true, x: 996.5, y,
      style: { text: t.text, fontSize: 7, fontFamily: FONT, fill: t.fill, backgroundColor: t.bg, borderColor: t.border, borderWidth: 1, padding: [1, 1, 0, 1], verticalAlign: "middle" },
    });
  });

  // RSI tag
  const lastRsi = last(rsi);
  els.push({
    type: "text", z: 40, silent: true, x: 996.5, y: pyR(lastRsi),
    style: { text: fmtEs(lastRsi, 3), fontSize: 6.5, fontFamily: FONT, fill: "#333", backgroundColor: "#f4f4f4", borderColor: "#9a9a9a", borderWidth: 1, padding: [0, 1, 0, 1], verticalAlign: "middle" },
  });
  // volume tags
  els.push({
    type: "text", z: 40, silent: true, x: 996.5, y: pyV(last(volumeMaK) * 1000) - 5,
    style: { text: volumeMaText, fontSize: 7, fontFamily: FONT, fill: "#8a8a8a", backgroundColor: "#ffffff", borderColor: "#a8a8a8", borderWidth: 1, padding: [1, 1, 0, 1], verticalAlign: "middle" },
  });
  els.push({
    type: "text", z: 41, silent: true, x: 996.5, y: pyV(volumesK[volumesK.length - 1] * 1000),
    style: { text: lastVolumeText, fontSize: 7, fontFamily: FONT, fill: "#3ca23c", backgroundColor: "#ffffff", borderColor: "#80cc80", borderWidth: 1, padding: [1, 1, 0, 1], verticalAlign: "middle" },
  });
  return els;
}

export default function App() {
  const ref = useRef<HTMLDivElement>(null);
  useEffect(() => {
    if (!ref.current) return;
    const chart = echarts.init(ref.current, undefined, { renderer: "svg" });
    chart.setOption(buildOption());
    chart.setOption({ graphic: { elements: buildGraphics(chart) } });
    return () => chart.dispose();
  }, []);
  return <div ref={ref} style={{ position: "fixed", left: 0, top: 0, width: 1024, height: 576, background: "#fff" }} />;
}
